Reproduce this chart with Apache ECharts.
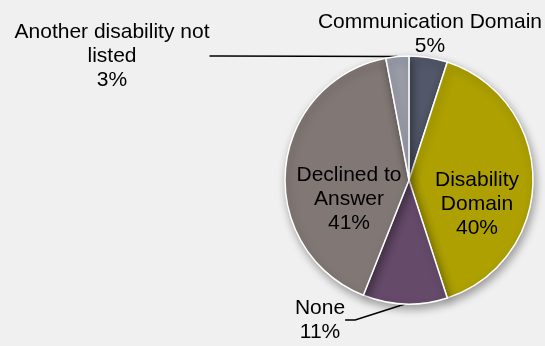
<!DOCTYPE html>
<html>
<head>
<meta charset="utf-8">
<script src="https://cdn.jsdelivr.net/npm/echarts@6/dist/echarts.min.js"></script>
<style>
  html, body { margin: 0; padding: 0; background: #f0f0f0; }
  #chart { width: 545px; height: 346px; }
</style>
</head>
<body>
<div id="chart"></div>
<script>
var names = ["Communication Domain", "Disability Domain", "None", "Declined to Answer", "Another disability not listed"];
var labelTexts = ["Communication Domain", "Disability\nDomain", "None", "Declined to\nAnswer", "Another disability not\nlisted"];
var values = [5, 40, 11, 41, 3];
var colors = ["#525869", "#ada000", "#654a6a", "#817875", "#9a9da8"];

// where each label sits (centre of text block)
var labelPos = [
  [430, 34],
  [477, 204],
  [320, 320],
  [349, 199],
  [112, 56]
];
var showLine = [false, false, true, false, true];

var chart = echarts.init(document.getElementById("chart"));

var data = values.map(function (v, i) {
  return {
    name: names[i],
    value: v,
    itemStyle: { color: colors[i] },
    label: { formatter: labelTexts[i] + "\n" + v + "%" },
    labelLine: { show: showLine[i] }
  };
});

var option = {
  backgroundColor: "#f0f0f0",
  animation: false,
  series: [
    {
      type: "pie",
      center: [409, 180],
      radius: 124,
      startAngle: 90,
      clockwise: true,
      avoidLabelOverlap: false,
      data: data,
      itemStyle: {
        borderColor: "#ffffff",
        borderWidth: 1.5,
        shadowBlur: 8,
        shadowOffsetX: 2,
        shadowOffsetY: 4,
        shadowColor: "rgba(0,0,0,0.35)"
      },
      label: {
        show: true,
        position: "outside",
        color: "#000",
        fontFamily: "Liberation Sans, Arial, sans-serif",
        fontSize: 21,
        lineHeight: 24,
        align: "center",
        overflow: "none"
      },
      labelLine: {
        show: true,
        length: 10,
        length2: 10,
        lineStyle: { color: "#000", width: 1.5 }
      },
      labelLayout: function (params) {
        var p = labelPos[params.dataIndex];
        return {
          x: p[0],
          y: p[1],
          align: "center",
          verticalAlign: "middle",
          hideOverlap: false
        };
      }
    }
  ]
};

option && chart.setOption(option);
</script>
</body>
</html>
